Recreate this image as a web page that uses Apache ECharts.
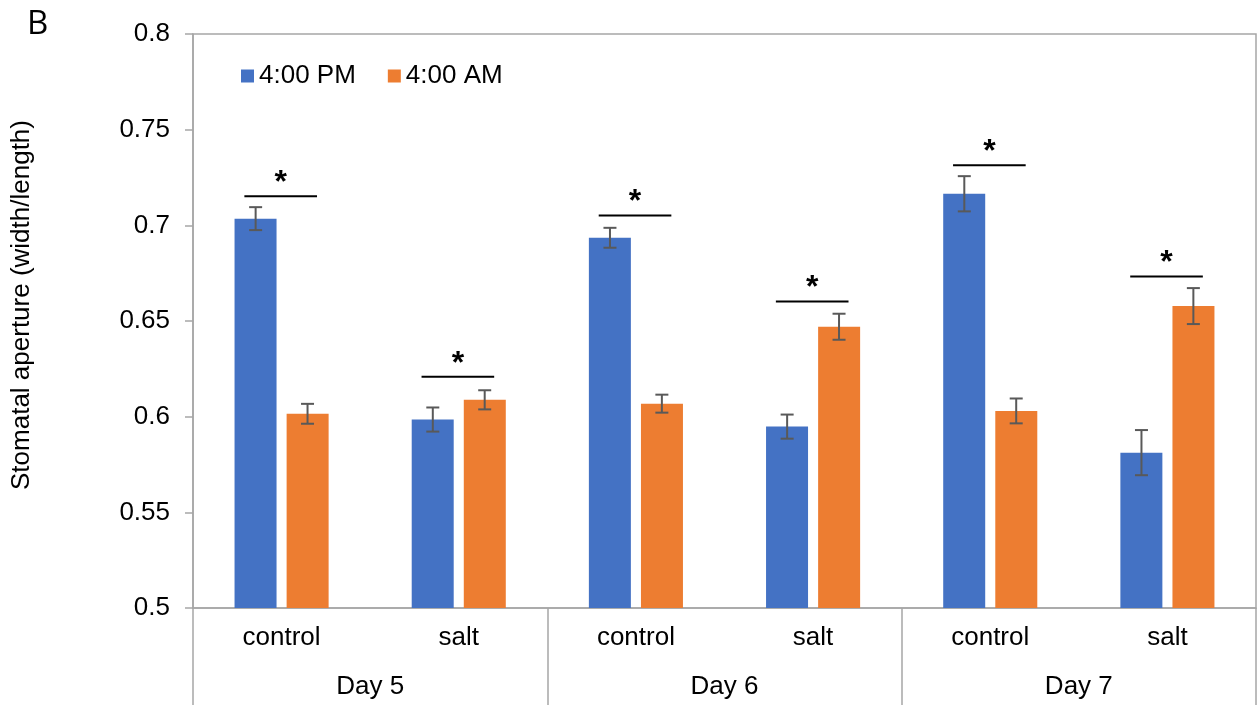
<!DOCTYPE html>
<html>
<head>
<meta charset="utf-8">
<script src="https://cdn.jsdelivr.net/npm/echarts@6/dist/echarts.min.js"></script>
<style>
  html, body { margin: 0; padding: 0; background: #fff; }
  #chart { width: 1260px; height: 705px; }
</style>
</head>
<body>
<div id="chart"></div>
<script>
// data
const treatments = ['control', 'salt', 'control', 'salt', 'control', 'salt']
const days = ['Day 5', 'Day 6', 'Day 7']
const pmValues = [0.7035, 0.5985, 0.6935, 0.5948, 0.7165, 0.5812]
const amValues = [0.6015, 0.6088, 0.6068, 0.6470, 0.6030, 0.6578]
const pmErr = [0.0060, 0.0063, 0.0052, 0.0063, 0.0092, 0.0118]
const amErr = [0.0052, 0.0050, 0.0047, 0.0068, 0.0065, 0.0094]
// height of the "*" bracket over each pair
const sigHeights = [0.7152, 0.6209, 0.7052, 0.6602, 0.7314, 0.6733]

const axisGray = '#a6a6a6'
const font = 'Liberation Sans, Arial, sans-serif'
const chart = echarts.init(document.getElementById('chart'))

// error bar drawn at bar offset (fraction of the category width)
const errorSeries = (values, errs, shift) => ({
    type: 'custom',
    xAxisIndex: 0,
    z: 10,
    silent: true,
    data: values.map((v, i) => [i, v - errs[i], v + errs[i]]),
    encode: { x: 0, y: [1, 2] },
    renderItem: (params, api) => {
        const band = api.size([1, 0])[0]
        const lo = api.coord([api.value(0), api.value(1)])
        const hi = api.coord([api.value(0), api.value(2)])
        const x = lo[0] + band * shift
        const half = 6.5
        const style = { stroke: '#595959', lineWidth: 2 }
        return {
            type: 'group',
            children: [
                { type: 'line', shape: { x1: x, y1: lo[1], x2: x, y2: hi[1] }, style },
                { type: 'line', shape: { x1: x - half, y1: lo[1], x2: x + half, y2: lo[1] }, style },
                { type: 'line', shape: { x1: x - half, y1: hi[1], x2: x + half, y2: hi[1] }, style }
            ]
        }
    }
})

const option = {
    animation: false,
    textStyle: { fontFamily: font },
    graphic: [
        { type: 'text', left: 27, top: 8, style: { text: 'B', font: '33px Open Sans, ' + font, fill: '#000' } },
        // y axis title, centred a little above the plot middle as in the original
        {
            type: 'text',
            x: 22,
            y: 305,
            rotation: Math.PI / 2,
            style: {
                text: 'Stomatal aperture (width/length)',
                font: '26px ' + font,
                fill: '#000',
                align: 'center',
                verticalAlign: 'middle'
            }
        }
    ],
    legend: {
        data: ['4:00 PM', '4:00 AM'],
        left: 236,
        top: 58,
        itemWidth: 13,
        itemHeight: 13,
        itemGap: 32,
        icon: 'rect',
        textStyle: { fontSize: 26, color: '#000', fontFamily: font }
    },
    grid: {
        left: 193,
        right: 4,
        top: 34,
        bottom: 97,
        show: true,
        borderColor: axisGray,
        borderWidth: 1.5,
        backgroundColor: 'transparent'
    },
    xAxis: [
        {
            type: 'category',
            data: treatments,
            axisLine: { lineStyle: { color: axisGray, width: 1.5 } },
            axisTick: { show: false },
            axisLabel: { color: '#000', fontSize: 26, margin: 17, interval: 0 }
        },
        {
            type: 'category',
            data: days,
            position: 'bottom',
            axisLine: { show: false },
            axisTick: { show: true, length: 97, interval: 0, lineStyle: { color: axisGray, width: 1.5 } },
            axisLabel: { color: '#000', fontSize: 26, margin: 66, interval: 0 }
        }
    ],
    yAxis: {
        type: 'value',
        min: 0.5,
        max: 0.8,
        interval: 0.05,
        splitLine: { show: false },
        axisLine: { show: true, lineStyle: { color: axisGray, width: 1.5 } },
        axisTick: { show: true, length: 8, lineStyle: { color: axisGray, width: 1.5 } },
        axisLabel: { color: '#000', fontSize: 26, margin: 23, formatter: v => String(+v.toFixed(2)) }
    },
    series: [
        {
            name: '4:00 PM',
            type: 'bar',
            data: pmValues,
            barWidth: 42,
            barGap: '24%',
            itemStyle: { color: '#4472C4' }
        },
        {
            name: '4:00 AM',
            type: 'bar',
            data: amValues,
            barWidth: 42,
            itemStyle: { color: '#ED7D31' }
        },
        errorSeries(pmValues, pmErr, -26 / 177.5),
        errorSeries(amValues, amErr, 26 / 177.5),
        {
            type: 'custom',
            z: 10,
            silent: true,
            data: sigHeights.map((v, i) => [i, v]),
            renderItem: (params, api) => {
                const band = api.size([1, 0])[0]
                const p = api.coord([api.value(0), api.value(1)])
                const x1 = p[0] - band * 0.21
                const x2 = p[0] + band * 0.2
                return {
                    type: 'group',
                    children: [
                        { type: 'line', shape: { x1: x1, y1: p[1], x2: x2, y2: p[1] }, style: { stroke: '#000', lineWidth: 2 } },
                        {
                            type: 'text',
                            x: (x1 + x2) / 2,
                            y: p[1] + 3,
                            style: { text: '*', font: 'bold 32px ' + font, fill: '#000', align: 'center', verticalAlign: 'bottom' }
                        }
                    ]
                }
            }
        }
    ]
}

chart.setOption(option)
</script>
</body>
</html>
